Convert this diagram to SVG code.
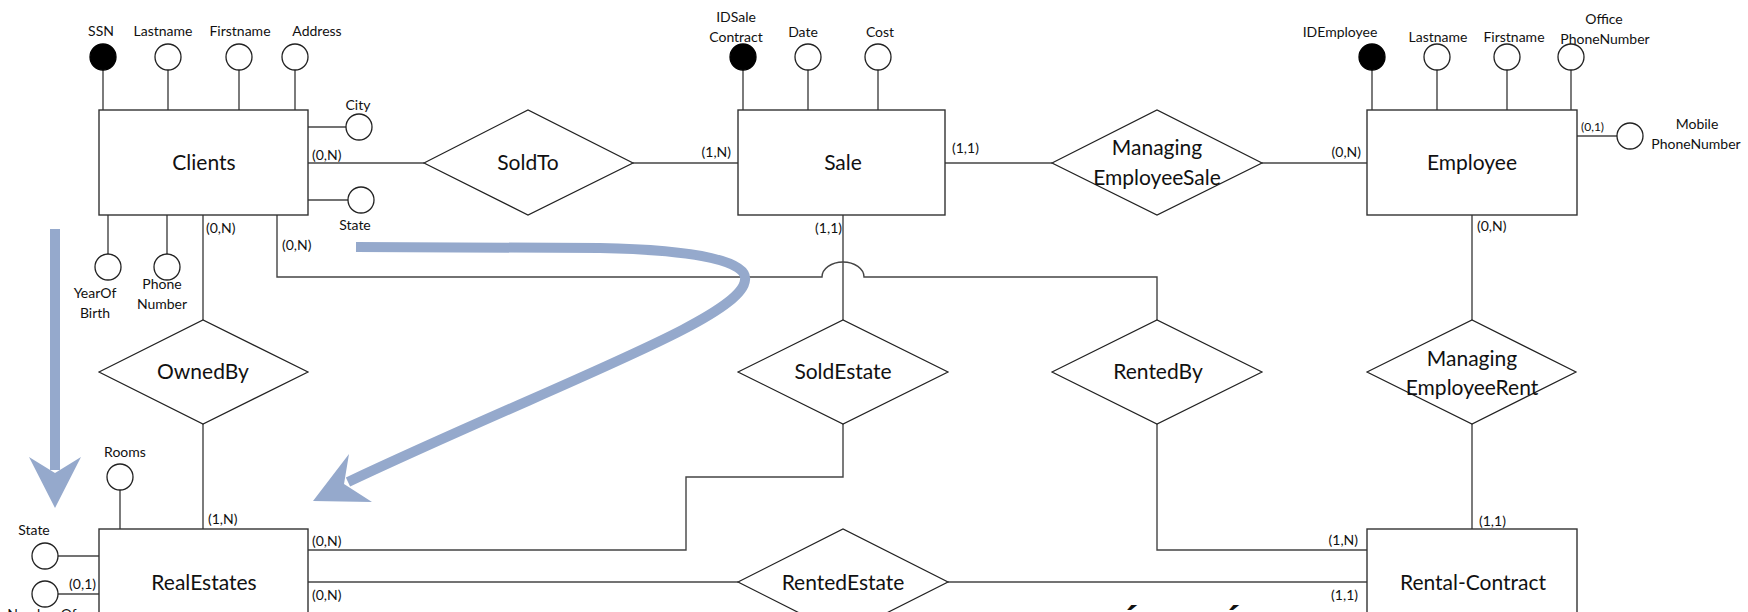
<svg xmlns="http://www.w3.org/2000/svg" width="1748" height="612" viewBox="0 0 1748 612">
<style>
  .box { fill: #fff; stroke: #333; stroke-width: 1.4; }
  .dia { fill: #fff; stroke: #222; stroke-width: 1.2; }
  .ln { fill: none; stroke: #444; stroke-width: 1.4; }
  .att { fill: #fff; stroke: #222; stroke-width: 1.3; }
  .key { fill: #000; stroke: #000; stroke-width: 1.3; }
  .big { font-family: Lato, "Liberation Sans", sans-serif; font-size: 21px; fill: #111; text-anchor: middle; }
  .sm { font-family: Lato, "Liberation Sans", sans-serif; font-size: 14px; fill: #111; text-anchor: middle; }
  .card { font-family: Lato, "Liberation Sans", sans-serif; font-size: 14px; fill: #111; }
  .blue { fill: none; stroke: #95a9cc; stroke-width: 10; }
  .bluef { fill: #95a9cc; stroke: none; }
  .acc { font-family: Lato, "Liberation Sans", sans-serif; font-size: 34px; font-weight: bold; fill: #111; text-anchor: middle; }
</style>

<g id="connectors">
  <!-- Clients attributes -->
  <line class="ln" x1="103" y1="70" x2="103" y2="110"/>
  <line class="ln" x1="168" y1="70" x2="168" y2="110"/>
  <line class="ln" x1="239" y1="70" x2="239" y2="110"/>
  <line class="ln" x1="295" y1="70" x2="295" y2="110"/>
  <line class="ln" x1="308" y1="127" x2="346" y2="127"/>
  <line class="ln" x1="308" y1="200" x2="348" y2="200"/>
  <line class="ln" x1="108" y1="215" x2="108" y2="254"/>
  <line class="ln" x1="167" y1="215" x2="167" y2="254"/>
  <!-- Sale attributes -->
  <line class="ln" x1="743" y1="70" x2="743" y2="110"/>
  <line class="ln" x1="808" y1="70" x2="808" y2="110"/>
  <line class="ln" x1="878" y1="70" x2="878" y2="110"/>
  <!-- Employee attributes -->
  <line class="ln" x1="1372" y1="70" x2="1372" y2="110"/>
  <line class="ln" x1="1437" y1="70" x2="1437" y2="110"/>
  <line class="ln" x1="1507" y1="70" x2="1507" y2="110"/>
  <line class="ln" x1="1571" y1="70" x2="1571" y2="110"/>
  <line class="ln" x1="1577" y1="136" x2="1617" y2="136"/>
  <!-- RealEstates attributes -->
  <line class="ln" x1="120" y1="490" x2="120" y2="529"/>
  <line class="ln" x1="58" y1="556" x2="99" y2="556"/>
  <line class="ln" x1="58" y1="594" x2="99" y2="594"/>
  <!-- relationships -->
  <line class="ln" x1="308" y1="163" x2="424" y2="163"/>
  <line class="ln" x1="633" y1="163" x2="738" y2="163"/>
  <line class="ln" x1="945" y1="163" x2="1052" y2="163"/>
  <line class="ln" x1="1262" y1="163" x2="1367" y2="163"/>
  <line class="ln" x1="203" y1="215" x2="203" y2="320"/>
  <line class="ln" x1="203" y1="424" x2="203" y2="529"/>
  <line class="ln" x1="843" y1="215" x2="843" y2="320"/>
  <path class="ln" d="M843,424 V477 H686 V550 H308"/>
  <path class="ln" d="M277,215 V277 H822 A21,15 0 0 1 864,277 H1157 V320"/>
  <path class="ln" d="M1157,424 V550 H1367"/>
  <line class="ln" x1="1472" y1="215" x2="1472" y2="320"/>
  <line class="ln" x1="1472" y1="424" x2="1472" y2="529"/>
  <line class="ln" x1="308" y1="582" x2="738" y2="582"/>
  <line class="ln" x1="948" y1="582" x2="1367" y2="582"/>
</g>

<g id="cardinalities">
  <text class="card" x="312" y="160">(0,N)</text>
  <text class="card" x="206" y="233">(0,N)</text>
  <text class="card" x="282" y="250">(0,N)</text>
  <text class="card" x="731" y="157" text-anchor="end">(1,N)</text>
  <text class="card" x="842" y="233" text-anchor="end">(1,1)</text>
  <text class="card" x="952" y="153">(1,1)</text>
  <text class="card" x="1361" y="157" text-anchor="end">(0,N)</text>
  <text class="card" x="1581" y="131" style="font-size:12px">(0,1)</text>
  <text class="card" x="1477" y="231">(0,N)</text>
  <text class="card" x="208" y="524">(1,N)</text>
  <text class="card" x="312" y="546">(0,N)</text>
  <text class="card" x="312" y="600">(0,N)</text>
  <text class="card" x="96" y="589" text-anchor="end">(0,1)</text>
  <text class="card" x="1358" y="545" text-anchor="end">(1,N)</text>
  <text class="card" x="1479" y="526">(1,1)</text>
  <text class="card" x="1358" y="600" text-anchor="end">(1,1)</text>
</g>

<g id="Clients">
  <rect class="box" x="99" y="110" width="209" height="105"/>
  <text class="big" x="204" y="170">Clients</text>
  <circle class="key" cx="103" cy="57" r="13"/>
  <text class="sm" x="101" y="36">SSN</text>
  <circle class="att" cx="168" cy="57" r="13"/>
  <text class="sm" x="163" y="36">Lastname</text>
  <circle class="att" cx="239" cy="57" r="13"/>
  <text class="sm" x="240" y="36">Firstname</text>
  <circle class="att" cx="295" cy="57" r="13"/>
  <text class="sm" x="317" y="36">Address</text>
  <circle class="att" cx="359" cy="127" r="13"/>
  <text class="sm" x="358" y="110">City</text>
  <circle class="att" cx="361" cy="200" r="13"/>
  <text class="sm" x="355" y="230">State</text>
  <circle class="att" cx="108" cy="267" r="13"/>
  <text class="sm" x="95" y="298">YearOf</text>
  <text class="sm" x="95" y="318">Birth</text>
  <circle class="att" cx="167" cy="267" r="13"/>
  <text class="sm" x="162" y="289">Phone</text>
  <text class="sm" x="162" y="309">Number</text>
</g>

<g id="SoldTo">
  <polygon class="dia" points="424,163 528,110 633,163 528,215"/>
  <text class="big" x="528" y="170">SoldTo</text>
</g>

<g id="Sale">
  <rect class="box" x="738" y="110" width="207" height="105"/>
  <text class="big" x="843" y="170">Sale</text>
  <circle class="key" cx="743" cy="57" r="13"/>
  <text class="sm" x="736" y="22">IDSale</text>
  <text class="sm" x="736" y="42">Contract</text>
  <circle class="att" cx="808" cy="57" r="13"/>
  <text class="sm" x="803" y="37">Date</text>
  <circle class="att" cx="878" cy="57" r="13"/>
  <text class="sm" x="880" y="37">Cost</text>
</g>

<g id="ManagingEmployeeSale">
  <polygon class="dia" points="1052,163 1157,110 1262,163 1157,215"/>
  <text class="big" x="1157" y="155">Managing</text>
  <text class="big" x="1157" y="185">EmployeeSale</text>
</g>

<g id="Employee">
  <rect class="box" x="1367" y="110" width="210" height="105"/>
  <text class="big" x="1472" y="170">Employee</text>
  <circle class="key" cx="1372" cy="57" r="13"/>
  <text class="sm" x="1340" y="37">IDEmployee</text>
  <circle class="att" cx="1437" cy="57" r="13"/>
  <text class="sm" x="1438" y="42">Lastname</text>
  <circle class="att" cx="1507" cy="57" r="13"/>
  <text class="sm" x="1514" y="42">Firstname</text>
  <circle class="att" cx="1571" cy="57" r="13"/>
  <text class="sm" x="1604" y="24">Office</text>
  <text class="sm" x="1605" y="44">PhoneNumber</text>
  <circle class="att" cx="1630" cy="136" r="13"/>
  <text class="sm" x="1697" y="129">Mobile</text>
  <text class="sm" x="1696" y="149">PhoneNumber</text>
</g>

<g id="OwnedBy">
  <polygon class="dia" points="99,372 203,320 308,372 203,424"/>
  <text class="big" x="203" y="379">OwnedBy</text>
</g>

<g id="SoldEstate">
  <polygon class="dia" points="738,372 843,320 948,372 843,424"/>
  <text class="big" x="843" y="379">SoldEstate</text>
</g>

<g id="RentedBy">
  <polygon class="dia" points="1052,372 1157,320 1262,372 1157,424"/>
  <text class="big" x="1158" y="379">RentedBy</text>
</g>

<g id="ManagingEmployeeRent">
  <polygon class="dia" points="1367,372 1472,320 1576,372 1472,424"/>
  <text class="big" x="1472" y="366">Managing</text>
  <text class="big" x="1472" y="395">EmployeeRent</text>
</g>

<g id="RealEstates">
  <rect class="box" x="99" y="529" width="209" height="105"/>
  <text class="big" x="204" y="590">RealEstates</text>
  <circle class="att" cx="120" cy="477" r="13"/>
  <text class="sm" x="125" y="457">Rooms</text>
  <circle class="att" cx="45" cy="556" r="13"/>
  <text class="sm" x="34" y="535">State</text>
  <circle class="att" cx="45" cy="594" r="13"/>
  <text class="sm" x="42" y="619">Number Of</text>
</g>

<g id="RentedEstate">
  <polygon class="dia" points="738,582 843,529 948,582 843,635"/>
  <text class="big" x="843" y="590">RentedEstate</text>
</g>

<g id="RentalContract">
  <rect class="box" x="1367" y="529" width="210" height="105"/>
  <text class="big" x="1473" y="590">Rental-Contract</text>
</g>

<g id="annotations">
  <line class="blue" x1="55" y1="229" x2="55" y2="470"/>
  <polygon class="bluef" points="29,457 55,473 81,457 55,508"/>
  <path class="blue" d="M356,247 L600,248 C700,250 748,262 745,280 C742,318 560,382 348,482"/>
  <polygon class="bluef" points="313,501 349,454 344,484 372,502"/>
  <text class="acc" x="1129" y="637">É</text>
  <text class="acc" x="1231" y="637">É</text>
</g>
</svg>
